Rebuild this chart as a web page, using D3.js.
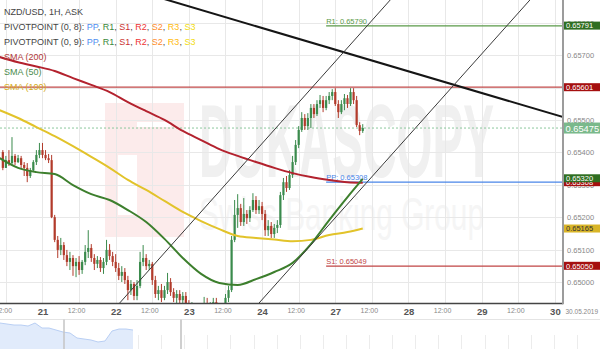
<!DOCTYPE html>
<html>
<head>
<meta charset="utf-8">
<script src="https://cdnjs.cloudflare.com/ajax/libs/d3/7.8.5/d3.min.js"></script>
<style>
body { margin: 0; background: #fff; }
svg { display: block; font-family: "Liberation Sans", Arial, sans-serif; }
</style>
</head>
<body>
<div id="chart"></div>
<script>
// hourly NZD/USD candles, hour index counted from 21 May 00:00 (weekend removed)
const firstHour = -13;
const firstOpen = 0.65401;
const closes = [
  0.65352, 0.65376, 0.65367, 0.65389, 0.65370, 0.65382, 0.65361, 0.65352, 0.65327, 0.65345, 0.65370, 0.65392, 0.65407,
  0.65392, 0.65382, 0.65376, 0.65200, 0.65130, 0.65099, 0.65114, 0.65083, 0.65062, 0.65074, 0.65049, 0.65062,
  0.65037, 0.65062, 0.65093, 0.65105, 0.65074, 0.65056, 0.65068, 0.65043, 0.65062, 0.65099, 0.65080, 0.65062,
  0.65043, 0.65019, 0.65031, 0.65006, 0.64975, 0.64994, 0.64957, 0.64988, 0.65062, 0.65074, 0.65049, 0.65056,
  0.65006, 0.64963, 0.64975, 0.64951, 0.64975, 0.65000, 0.64969, 0.64951, 0.64963, 0.64944, 0.64957, 0.64929,
  0.64907, 0.64920, 0.64895, 0.64907, 0.64889, 0.64932, 0.64907, 0.64926, 0.64938, 0.64914, 0.64901, 0.64920,
  0.64951, 0.64975, 0.65130, 0.65207, 0.65228, 0.65185, 0.65210, 0.65197, 0.65222, 0.65253, 0.65222, 0.65234,
  0.65210, 0.65160, 0.65173, 0.65148, 0.65167, 0.65176, 0.65268, 0.65308, 0.65290, 0.65330, 0.65370, 0.65423,
  0.65469, 0.65506, 0.65481, 0.65506, 0.65537, 0.65518, 0.65549, 0.65561, 0.65537, 0.65561, 0.65574, 0.65586,
  0.65549, 0.65524, 0.65549, 0.65567, 0.65549, 0.65586, 0.65561, 0.65484, 0.65466, 0.65475
];
const highs = [
  0.65407, 0.65389, 0.65407, 0.65447, 0.65395, 0.65392, 0.65389, 0.65370, 0.65367, 0.65352, 0.65376, 0.65407, 0.65429,
  0.65429, 0.65407, 0.65395, 0.65392, 0.65207, 0.65142, 0.65136, 0.65123, 0.65099, 0.65093, 0.65083, 0.65074,
  0.65080, 0.65068, 0.65114, 0.65160, 0.65117, 0.65086, 0.65080, 0.65077, 0.65074, 0.65130, 0.65117, 0.65093,
  0.65086, 0.65059, 0.65049, 0.65043, 0.65019, 0.65006, 0.65000, 0.65006, 0.65093, 0.65114, 0.65086, 0.65068,
  0.65062, 0.65019, 0.64988, 0.64994, 0.64988, 0.65028, 0.65012, 0.64981, 0.64975, 0.64975, 0.64969, 0.64969,
  0.64944, 0.64938, 0.64932, 0.64920, 0.64926, 0.64954, 0.64951, 0.64938, 0.64951, 0.64951, 0.64929, 0.64932,
  0.64963, 0.64988, 0.65142, 0.65253, 0.65271, 0.65241, 0.65259, 0.65222, 0.65234, 0.65274, 0.65265, 0.65253,
  0.65247, 0.65222, 0.65191, 0.65185, 0.65179, 0.65191, 0.65278, 0.65321, 0.65327, 0.65345, 0.65389, 0.65438,
  0.65481, 0.65524, 0.65518, 0.65521, 0.65549, 0.65549, 0.65561, 0.65577, 0.65574, 0.65574, 0.65586, 0.65595,
  0.65598, 0.65561, 0.65561, 0.65580, 0.65577, 0.65598, 0.65598, 0.65574, 0.65493, 0.65487
];
const lows = [
  0.65345, 0.65352, 0.65358, 0.65364, 0.65361, 0.65367, 0.65352, 0.65327, 0.65308, 0.65321, 0.65339, 0.65361, 0.65382,
  0.65382, 0.65376, 0.65367, 0.65197, 0.65123, 0.65074, 0.65083, 0.65068, 0.65049, 0.65037, 0.65019, 0.65015,
  0.65022, 0.65025, 0.65052, 0.65074, 0.65062, 0.65037, 0.65043, 0.65031, 0.65025, 0.65052, 0.65068, 0.65049,
  0.65031, 0.65006, 0.65000, 0.64994, 0.64944, 0.64960, 0.64944, 0.64944, 0.64981, 0.65049, 0.65037, 0.65037,
  0.64991, 0.64951, 0.64944, 0.64938, 0.64944, 0.64963, 0.64957, 0.64938, 0.64935, 0.64926, 0.64926, 0.64914,
  0.64895, 0.64889, 0.64883, 0.64877, 0.64871, 0.64883, 0.64895, 0.64889, 0.64901, 0.64898, 0.64883, 0.64889,
  0.64907, 0.64938, 0.64969, 0.65123, 0.65167, 0.65173, 0.65173, 0.65179, 0.65185, 0.65216, 0.65210, 0.65210,
  0.65191, 0.65142, 0.65142, 0.65136, 0.65136, 0.65151, 0.65167, 0.65253, 0.65278, 0.65284, 0.65321, 0.65361,
  0.65413, 0.65463, 0.65469, 0.65469, 0.65475, 0.65506, 0.65512, 0.65537, 0.65524, 0.65530, 0.65549, 0.65561,
  0.65543, 0.65506, 0.65518, 0.65530, 0.65537, 0.65543, 0.65549, 0.65478, 0.65453, 0.65460
];

// moving averages
const smaHours = [-14, -8, -2, 4, 10, 16, 22, 28, 34, 40, 46, 52, 58, 64, 70, 76, 82, 88, 94, 100, 105];
const sma200 = [0.65694, 0.65678, 0.65665, 0.65651, 0.65629, 0.65608, 0.65586, 0.65555, 0.65527, 0.65500, 0.65466,
  0.65438, 0.65410, 0.65389, 0.65370, 0.65352, 0.65336, 0.65324, 0.65315, 0.65308, 0.65306];
const sma100 = [0.65530, 0.65506, 0.65478, 0.65450, 0.65419, 0.65386, 0.65352, 0.65315, 0.65284, 0.65250, 0.65216,
  0.65188, 0.65163, 0.65142, 0.65136, 0.65131, 0.65126, 0.65130, 0.65145, 0.65154, 0.65165];
const sma50 = [0.65382, 0.65352, 0.65339, 0.65333, 0.65299, 0.65271, 0.65253, 0.65222, 0.65185, 0.65133, 0.65074,
  0.65025, 0.64997, 0.64991, 0.65009, 0.65031, 0.65059, 0.65117, 0.65191, 0.65262, 0.65318];

// pivot points of the new week
const pivotStart = 93;
const pivotNames = ["R1", "PP", "S1"];
const pivotValues = [0.65790, 0.65308, 0.65049];

// drawn lines: [hour, price] pairs
const trendLine = [[41, 0.65870], [171, 0.65508]];
const channelUpper = [[25, 0.64932], [114, 0.65870]];
const channelLower = [[70.7, 0.64932], [159.8, 0.65870]];
const resistance = 0.65601;

// axis
const yTickValues = [0.650, 0.651, 0.652, 0.653, 0.654, 0.655, 0.656, 0.657, 0.658];
const xTickHours = [-12, 0, 12, 24, 36, 48, 60, 72, 84, 96, 108, 120, 132, 144, 156, 168];
const xTickLabels = ["12:00", "21", "12:00", "22", "12:00", "23", "12:00", "24", "12:00", "27", "12:00", "28", "12:00", "29", "12:00", "30"];
const endDate = "30.05.2019";

// price tags on the right axis
const tagValues = [0.65791, 0.65601, 0.65308, 0.65320, 0.65165, 0.65050];
const tagFills = ["#2f6e21", "#a50f0f", "#a50f0f", "#2f6e21", "#d9b527", "#a50f0f"];
const tagText = ["#fff", "#fff", "#fff", "#fff", "#333", "#fff"];

// navigator history
const navValues = [0.65606, 0.65575, 0.65544, 0.65544, 0.65513, 0.65606, 0.65451, 0.65451, 0.65389, 0.65327,
  0.65296, 0.65141, 0.65110, 0.65079, 0.65017, 0.65048, 0.65358, 0.65420, 0.65420, 0.65389];

const svgWidth = 600;
const svgHeight = 349;
const plotW = 563;
const plotH = 303.5;
const font = "'Liberation Sans', Arial, sans-serif";

let svg = d3.select("#chart").append("svg")
  .attr("width", svgWidth)
  .attr("height", svgHeight);

let x = d3.scaleLinear().domain([-13.93, 170.66]).range([0, plotW]);
let y = d3.scaleLinear().domain([0.6493, 0.6587]).range([304.7, 0]);

svg.append("clipPath").attr("id", "plot")
  .append("rect").attr("width", plotW).attr("height", plotH);

// watermark
let wm = svg.append("g").attr("clip-path", "url(#plot)");
wm.append("rect").attr("x", 105).attr("y", 103).attr("width", 79).attr("height", 134).attr("fill", "#fcebeb");
wm.append("rect").attr("x", 118).attr("y", 155).attr("width", 19).attr("height", 60).attr("fill", "#fff");
wm.append("rect").attr("x", 137).attr("y", 122).attr("width", 34).attr("height", 5).attr("fill", "#fff");
wm.append("text").attr("x", 199).attr("y", 177)
  .attr("font-size", 103).attr("font-weight", "bold")
  .attr("textLength", 295).attr("lengthAdjust", "spacingAndGlyphs")
  .attr("fill", "#f0f0f0").text("DUKASCOPY");
wm.append("text").attr("x", 199).attr("y", 230)
  .attr("font-size", 46)
  .attr("textLength", 285).attr("lengthAdjust", "spacingAndGlyphs")
  .attr("fill", "#f5f5f5").text("Swiss Banking Group");

// grid
let grid = svg.append("g").attr("stroke", "#e8e8e8").attr("stroke-width", 1);
grid.selectAll(".h").data(yTickValues).enter().append("line")
  .attr("x1", 0).attr("x2", plotW)
  .attr("y1", d => Math.round(y(d)) + 0.5).attr("y2", d => Math.round(y(d)) + 0.5);
grid.selectAll(".v").data(xTickHours).enter().append("line")
  .attr("x1", d => Math.round(x(d)) + 0.5).attr("x2", d => Math.round(x(d)) + 0.5)
  .attr("y1", 0).attr("y2", plotH);

let chart = svg.append("g").attr("clip-path", "url(#plot)");

// resistance and current price lines
chart.append("line")
  .attr("x1", 0).attr("x2", plotW)
  .attr("y1", y(resistance)).attr("y2", y(resistance))
  .attr("stroke", "#c24a4a").attr("stroke-width", 1.2);
const lastPrice = closes[closes.length - 1];
chart.append("line")
  .attr("x1", 0).attr("x2", plotW)
  .attr("y1", y(lastPrice)).attr("y2", y(lastPrice))
  .attr("stroke", "#8cc79c").attr("stroke-width", 1).attr("stroke-dasharray", "2,2");

// pivot lines
const pivotColors = ["#5a9a48", "#4a86e8", "#c04444"];
pivotValues.forEach(function (v, i) {
  chart.append("line")
    .attr("x1", x(pivotStart)).attr("x2", plotW)
    .attr("y1", y(v)).attr("y2", y(v))
    .attr("stroke", pivotColors[i]).attr("stroke-width", 1.2);
  chart.append("text")
    .attr("x", x(pivotStart)).attr("y", y(v) - 2)
    .attr("font-size", 7.5).attr("fill", pivotColors[i])
    .text(pivotNames[i] + ": " + v.toFixed(5));
});

// candles
let candles = closes.map(function (c, i) {
  return { h: firstHour + i, o: i === 0 ? firstOpen : closes[i - 1], c: c, hi: highs[i], lo: lows[i] };
});
const up = "#3b8b4d", down = "#b23b2b";
let cg = chart.append("g");
cg.selectAll(".wick").data(candles).enter().append("line")
  .attr("x1", d => x(d.h)).attr("x2", d => x(d.h))
  .attr("y1", d => y(d.hi)).attr("y2", d => y(d.lo))
  .attr("stroke", d => d.c >= d.o ? up : down).attr("stroke-width", 1);
cg.selectAll(".body").data(candles).enter().append("rect")
  .attr("x", d => x(d.h) - 1.1)
  .attr("width", 2.2)
  .attr("y", d => y(Math.max(d.o, d.c)))
  .attr("height", d => Math.max(1, Math.abs(y(d.o) - y(d.c))))
  .attr("fill", d => d.c >= d.o ? up : down);

// moving averages
let smaLine = d3.line().x(d => x(d[0])).y(d => y(d[1])).curve(d3.curveMonotoneX);
[[sma200, "#b3222e"], [sma100, "#e2c32a"], [sma50, "#3d7f2d"]].forEach(function (s) {
  chart.append("path")
    .datum(smaHours.map((h, i) => [h, s[0][i]]))
    .attr("d", smaLine)
    .attr("fill", "none").attr("stroke", s[1]).attr("stroke-width", 2);
});

// trend line and channel
function extend(pts) {
  let k = (pts[1][1] - pts[0][1]) / (pts[1][0] - pts[0][0]);
  let h0 = x.domain()[0] - 30, h1 = x.domain()[1] + 30;
  return [[h0, pts[0][1] + k * (h0 - pts[0][0])], [h1, pts[0][1] + k * (h1 - pts[0][0])]];
}
let straight = d3.line().x(d => x(d[0])).y(d => y(d[1]));
chart.append("path").datum(extend(trendLine)).attr("d", straight)
  .attr("stroke", "#151515").attr("stroke-width", 2).attr("fill", "none");
[channelUpper, channelLower].forEach(function (c) {
  chart.append("path").datum(extend(c)).attr("d", straight)
    .attr("stroke", "#3a3a3a").attr("stroke-width", 1).attr("fill", "none");
});

// legend
const pivotParts = ["PP", "R1", "S1", "R2", "S2", "R3", "S3"];
const pivotPartColors = ["#4f8ff0", "#3b8a3b", "#c93131", "#ee3434", "#ff8c2a", "#ffbb10", "#f2dc10"];
let legend = svg.append("g").attr("font-size", 9).attr("font-family", font);
legend.append("text").attr("x", 4).attr("y", 15).attr("fill", "#444").text("NZD/USD, 1H, ASK");
["PIVOTPOINT (0, 8)", "PIVOTPOINT (0, 9)"].forEach(function (name, i) {
  let t = legend.append("text").attr("x", 4).attr("y", 30 + 15 * i).attr("fill", "#444");
  t.append("tspan").text(name + ": ");
  pivotParts.forEach(function (p, j) {
    t.append("tspan").attr("fill", pivotPartColors[j]).text(p);
    if (j < pivotParts.length - 1) t.append("tspan").text(", ");
  });
});
[["SMA (200)", "#b23a3a"], ["SMA (50)", "#4b8b4b"], ["SMA (100)", "#d5ad20"]].forEach(function (s, i) {
  legend.append("text").attr("x", 4).attr("y", 59.5 + 15 * i).attr("fill", s[1]).text(s[0]);
});

// axes
let xAxis = d3.axisBottom(x).tickValues(xTickHours)
  .tickFormat((d, i) => xTickLabels[i]).tickSize(0).tickPadding(5);
let gx = svg.append("g").attr("transform", `translate(0, ${plotH})`).call(xAxis);
gx.select(".domain").remove();
gx.selectAll("text")
  .attr("font-family", font)
  .attr("font-size", (d, i) => xTickLabels[i].length > 2 ? 7 : 9.5)
  .attr("font-weight", (d, i) => xTickLabels[i].length > 2 ? "normal" : "bold")
  .attr("fill", (d, i) => xTickLabels[i].length > 2 ? "#888" : "#555")
  .attr("dx", (d, i) => xTickLabels[i].length > 2 ? -3 : 0);
svg.append("text").attr("x", 565.5).attr("y", 314)
  .attr("font-size", 6.5).attr("font-family", font).attr("fill", "#888").text(endDate);

let yAxis = d3.axisRight(y).tickValues(yTickValues).tickFormat(d3.format(".5f")).tickSize(0).tickPadding(4);
let gy = svg.append("g").attr("transform", `translate(${plotW}, 0)`).call(yAxis);
gy.select(".domain").remove();
gy.selectAll("text").attr("font-family", font).attr("font-size", 7.5).attr("fill", "#888");

svg.append("line").attr("x1", 0).attr("x2", plotW).attr("y1", plotH).attr("y2", plotH)
  .attr("stroke", "#444").attr("stroke-width", 1.4);
svg.append("line").attr("x1", plotW).attr("x2", plotW).attr("y1", 0).attr("y2", plotH + 0.7)
  .attr("stroke", "#9c9c9c").attr("stroke-width", 2);

// price tags
let tags = svg.append("g").attr("font-family", font);
tagValues.forEach(function (v, i) {
  tags.append("rect").attr("x", plotW + 1).attr("y", y(v) - 4).attr("width", 36).attr("height", 8)
    .attr("fill", tagFills[i]);
  tags.append("text").attr("x", plotW + 3).attr("y", y(v) + 2.8)
    .attr("font-size", 7.5).attr("fill", tagText[i]).text(v.toFixed(5));
});
tags.append("rect").attr("x", plotW + 1).attr("y", y(lastPrice) - 5.5).attr("width", 36).attr("height", 11)
  .attr("fill", "#7ab98b");
tags.append("text").attr("x", plotW + 2.5).attr("y", y(lastPrice) + 3.5)
  .attr("font-size", 9.3).attr("fill", "#fff").text(lastPrice.toFixed(5));

// navigator
let navX = d3.scaleLinear().domain([0, navValues.length - 1]).range([0, 133]);
let navY = d3.scaleLinear().domain([0.648, 0.657]).range([349, 320]);
let nav = svg.append("g");
nav.append("line").attr("x1", 0).attr("x2", svgWidth).attr("y1", 319.5).attr("y2", 319.5)
  .attr("stroke", "#e4e4e4");
nav.selectAll(".tick").data(d3.range(138, 600, 23.1)).enter().append("line")
  .attr("x1", d => Math.round(d) + 0.5).attr("x2", d => Math.round(d) + 0.5)
  .attr("y1", 335).attr("y2", 349).attr("stroke", "#ececec");
nav.append("path").datum(navValues)
  .attr("d", d3.area().x((d, i) => navX(i)).y0(349).y1(d => navY(d)))
  .attr("fill", "#e1ebfb");
nav.append("path").datum(navValues)
  .attr("d", d3.line().x((d, i) => navX(i)).y(d => navY(d)))
  .attr("fill", "none").attr("stroke", "#b9cff4").attr("stroke-width", 1);
nav.append("line").attr("x1", 64).attr("x2", 64).attr("y1", 319.5).attr("y2", 349)
  .attr("stroke", "#c4c4c4").attr("stroke-width", 1.5);
nav.append("line").attr("x1", 181).attr("x2", 181).attr("y1", 319.5).attr("y2", 349)
  .attr("stroke", "#cfcfcf").attr("stroke-width", 2);
</script>
</body>
</html>
